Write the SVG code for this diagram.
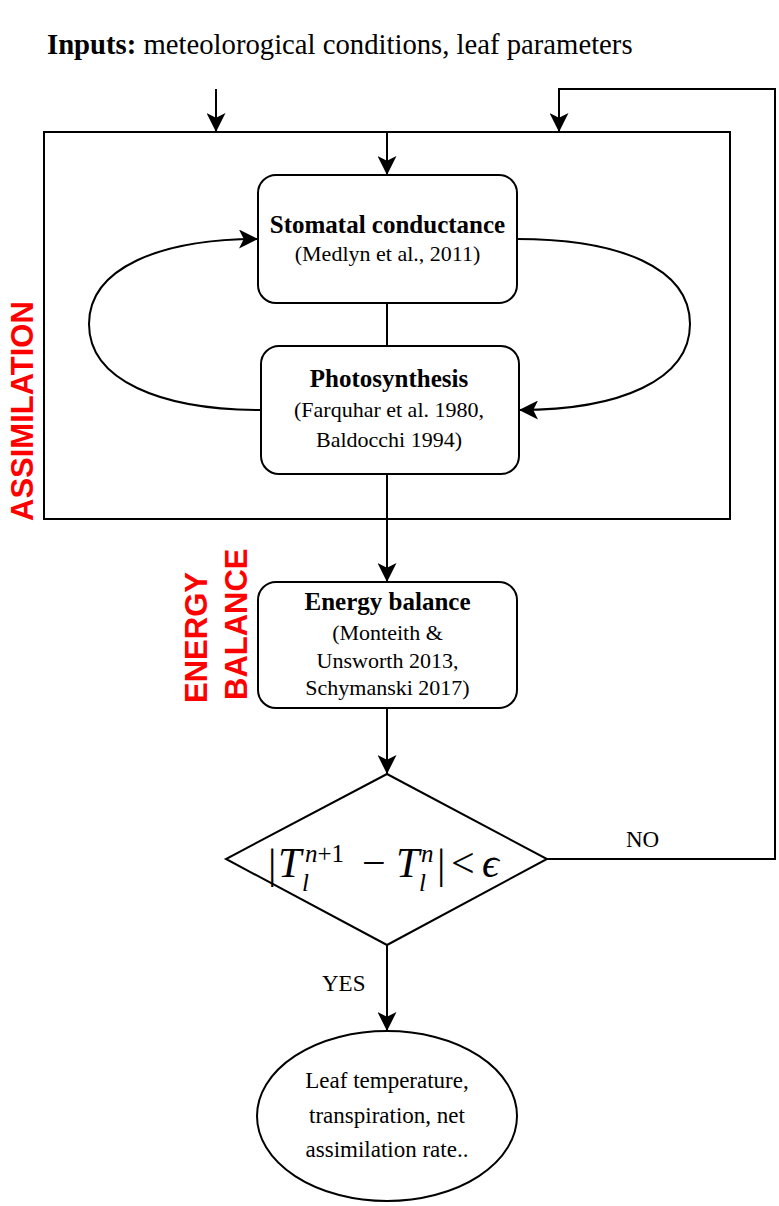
<svg xmlns="http://www.w3.org/2000/svg" width="779" height="1206" viewBox="0 0 779 1206">
<style>
.box{fill:#fff;stroke:#000;stroke-width:2}
.frame{fill:none;stroke:#000;stroke-width:2}
.edge{fill:none;stroke:#000;stroke-width:2}
.t{font-family:"Liberation Serif","DejaVu Serif",serif;fill:#000}
.b{font-weight:bold;font-size:25px}
.r{font-size:22px}
.red{font-family:"Liberation Sans",Arial,sans-serif;font-weight:bold;font-size:31px;fill:#ff0000}
.m{font-family:"Liberation Serif","DejaVu Serif",serif;fill:#000;font-size:42px}
.s{font-size:25px}
.i{font-style:italic}
</style>
<defs>
<marker id="arr" markerUnits="userSpaceOnUse" viewBox="0 0 20 20" refX="20" refY="10" markerWidth="19" markerHeight="19" orient="auto">
<path d="M0,0 L20,10 L0,20 L5,10 Z" fill="#000"/>
</marker>
</defs>
<rect width="779" height="1206" fill="#fff"/>

<g id="title">
<text class="t" x="47" y="54" font-size="28.7"><tspan font-weight="bold">Inputs:</tspan> meteolorogical conditions, leaf parameters</text>
</g>

<g id="assimilation-frame">
<rect class="frame" x="44" y="132" width="686" height="387"/>
<text class="red" transform="translate(33,521) rotate(-90)">ASSIMILATION</text>
</g>

<g id="energy-label">
<text class="red" transform="translate(207,703) rotate(-90)">ENERGY</text>
<text class="red" transform="translate(247,700) rotate(-90)">BALANCE</text>
</g>

<g id="connectors">
<path class="edge" d="M216,89 L216,132" marker-end="url(#arr)"/>
<path class="edge" d="M387,132 L387,175" marker-end="url(#arr)"/>
<path class="edge" d="M387,303 L387,346"/>
<path class="edge" d="M261,410 C160,410 89,380 89,324 C89,268 160,239 258,239" marker-end="url(#arr)"/>
<path class="edge" d="M517,239 C620,239 690,268 690,324 C690,380 620,410 519,410" marker-end="url(#arr)"/>
<path class="edge" d="M387,474 L387,582" marker-end="url(#arr)"/>
<path class="edge" d="M387,708 L387,774" marker-end="url(#arr)"/>
<path class="edge" d="M387,945 L387,1031" marker-end="url(#arr)"/>
<path class="edge" d="M547,859 L775,859 L775,89 L559,89 L559,132" marker-end="url(#arr)"/>
<text class="t" x="626" y="847" font-size="23">NO</text>
<text class="t" x="322" y="991" font-size="23">YES</text>
</g>

<g id="stomatal">
<rect class="box" x="258" y="175" width="259" height="128" rx="18"/>
<text class="t b" x="387.5" y="233" text-anchor="middle">Stomatal conductance</text>
<text class="t r" x="387.5" y="261" text-anchor="middle">(Medlyn et al., 2011)</text>
</g>

<g id="photosynthesis">
<rect class="box" x="261" y="346" width="258" height="128" rx="18"/>
<text class="t b" x="389" y="387" text-anchor="middle">Photosynthesis</text>
<text class="t r" x="389" y="417" text-anchor="middle">(Farquhar et al. 1980,</text>
<text class="t r" x="389" y="447" text-anchor="middle">Baldocchi 1994)</text>
</g>

<g id="energy">
<rect class="box" x="258" y="582" width="259" height="126" rx="18"/>
<text class="t b" x="387.5" y="610" text-anchor="middle">Energy balance</text>
<text class="t r" x="387.5" y="640" text-anchor="middle">(Monteith &amp;</text>
<text class="t r" x="387.5" y="668" text-anchor="middle">Unsworth 2013,</text>
<text class="t r" x="387.5" y="695" text-anchor="middle">Schymanski 2017)</text>
</g>

<g id="check">
<polygon class="box" points="387,774 547,859 387,945 226,859"/>
<text class="m"><tspan x="268" y="878">|</tspan><tspan class="i" x="278" y="877">T</tspan><tspan class="i s" x="305" y="862">n</tspan><tspan class="s">+1</tspan><tspan class="i s" x="302" y="891">l</tspan><tspan x="362" y="877">−</tspan><tspan class="i" x="396" y="877">T</tspan><tspan class="i s" x="421" y="862">n</tspan><tspan class="i s" x="419" y="891">l</tspan><tspan x="437" y="878">|</tspan><tspan x="451" y="877">&lt;</tspan><tspan class="i" x="482" y="877">ϵ</tspan></text>
</g>

<g id="output">
<ellipse class="box" cx="387" cy="1116" rx="130" ry="85"/>
<text class="t" x="387" y="1088" font-size="23" text-anchor="middle">Leaf temperature,</text>
<text class="t" x="387" y="1123" font-size="23" text-anchor="middle">transpiration, net</text>
<text class="t" x="387" y="1157" font-size="23" text-anchor="middle">assimilation rate..</text>
</g>
</svg>
